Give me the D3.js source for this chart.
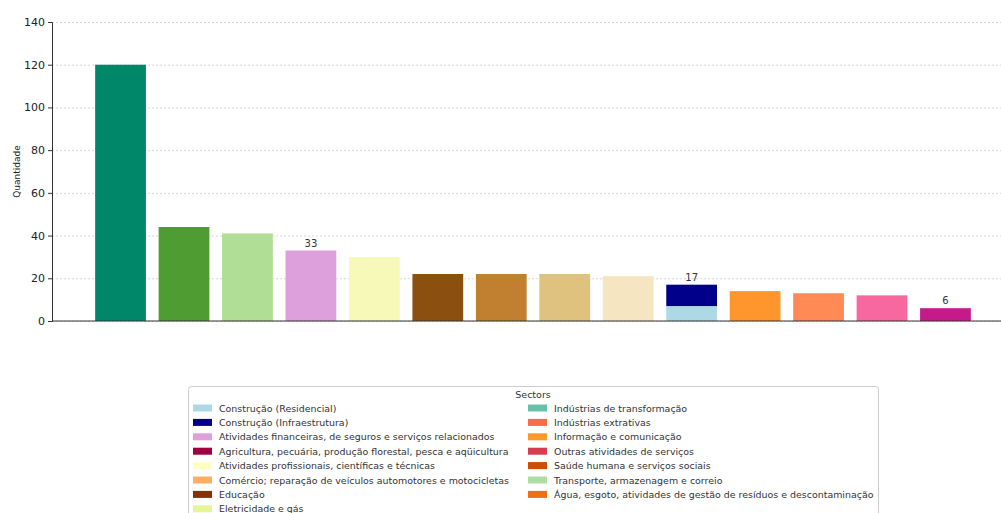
<!DOCTYPE html>
<html>
<head>
<meta charset="utf-8">
<script src="https://cdn.jsdelivr.net/npm/d3@7"></script>
<style>
  body { margin: 0; background: #fff; }
  svg text { font-family: "DejaVu Sans", sans-serif; }
  .grid line { stroke: #ccc; stroke-dasharray: 2,2; stroke-width: 0.8; }
  .grid .domain { display: none; }
</style>
</head>
<body>
<div class="fig"></div>
<script>
// bar data (sorted, no x labels shown)
var barIndex = d3.range(14);
var lowerValues = [120, 44, 41, 33, 30, 22, 22, 22, 21, 7, 14, 13, 12, 6];
var upperValues = [0, 0, 0, 0, 0, 0, 0, 0, 0, 10, 0, 0, 0, 0];
var lowerColors = ["#00876a", "#4e9c32", "#b0de94", "#dda0dd", "#f6f9b8", "#8b5010",
                   "#c0802f", "#dec27e", "#f5e5c0", "#add8e6", "#ff962d", "#ff8a55",
                   "#f768a1", "#c51b8a"];
var upperColor = "#00008b";
var labelledBars = [3, 9, 13];

var yTicks = [0, 20, 40, 60, 80, 100, 120, 140];

// legend
var legendLeft = [
  "Construção (Residencial)",
  "Construção (Infraestrutura)",
  "Atividades financeiras, de seguros e serviços relacionados",
  "Agricultura, pecuária, produção florestal, pesca e aqüicultura",
  "Atividades profissionais, científicas e técnicas",
  "Comércio; reparação de veículos automotores e motocicletas",
  "Educação",
  "Eletricidade e gás"
];
var legendLeftColors = ["#add8e6", "#00008b", "#dda0dd", "#9e0142", "#ffffbf",
                        "#fdae61", "#8c2d04", "#e6f598"];
var legendRight = [
  "Indústrias de transformação",
  "Indústrias extrativas",
  "Informação e comunicação",
  "Outras atividades de serviços",
  "Saúde humana e serviços sociais",
  "Transporte, armazenagem e correio",
  "Água, esgoto, atividades de gestão de resíduos e descontaminação"
];
var legendRightColors = ["#66c2a5", "#f46d43", "#fb9a29", "#d53e4f", "#cc4c02",
                         "#abdda4", "#ec7014"];

var W = 1001, H = 513;
var svg = d3.select(".fig").append("svg")
    .attr("width", W)
    .attr("height", H);

svg.append("rect").attr("width", W).attr("height", H).attr("fill", "#fff");

var x = d3.scaleBand()
    .domain(barIndex)
    .range([52, 1014])
    .paddingInner(0.2)
    .paddingOuter(0.68);

var y = d3.scaleLinear()
    .domain([0, 140])
    .range([321, 22]);

// grid
svg.append("g")
    .attr("class", "grid")
    .attr("transform", "translate(52,0)")
    .call(d3.axisLeft(y).tickValues(yTicks).tickSize(-1000).tickFormat(""));

// bars
var plot = svg.append("g");

plot.selectAll(".lower")
    .data(barIndex)
    .enter()
    .append("rect")
    .attr("class", "lower")
    .attr("x", d => x(d))
    .attr("width", x.bandwidth())
    .attr("y", d => y(lowerValues[d]))
    .attr("height", d => y(0) - y(lowerValues[d]))
    .attr("fill", d => lowerColors[d]);

plot.selectAll(".upper")
    .data(barIndex.filter(d => upperValues[d] > 0))
    .enter()
    .append("rect")
    .attr("class", "upper")
    .attr("x", d => x(d))
    .attr("width", x.bandwidth())
    .attr("y", d => y(lowerValues[d] + upperValues[d]))
    .attr("height", d => y(lowerValues[d]) - y(lowerValues[d] + upperValues[d]))
    .attr("fill", upperColor);

// value labels
plot.selectAll(".vlabel")
    .data(labelledBars)
    .enter()
    .append("text")
    .attr("class", "vlabel")
    .attr("x", d => x(d) + x.bandwidth() / 2)
    .attr("y", d => y(lowerValues[d] + upperValues[d]) - 4)
    .attr("text-anchor", "middle")
    .attr("font-size", "10px")
    .attr("fill", "#333")
    .text(d => lowerValues[d] + upperValues[d]);

// axes
var yAxis = svg.append("g")
    .attr("transform", "translate(52,0)")
    .call(d3.axisLeft(y).tickValues(yTicks).tickSize(4).tickPadding(3));
yAxis.selectAll("text").attr("font-size", "11px").attr("fill", "#222")
    .style("font-family", "DejaVu Sans, sans-serif");
yAxis.selectAll("line").attr("stroke", "#333");
yAxis.select(".domain").attr("stroke", "#333");

svg.append("line")
    .attr("x1", 52).attr("x2", W)
    .attr("y1", y(0)).attr("y2", y(0))
    .attr("stroke", "#333");

svg.append("text")
    .attr("transform", "translate(20," + ((y(0) + y(140)) / 2) + ") rotate(-90)")
    .attr("text-anchor", "middle")
    .attr("font-size", "9px")
    .attr("fill", "#222")
    .text("Quantidade");

// legend
var lg = svg.append("g");
lg.append("rect")
    .attr("x", 188.5).attr("y", 386.5)
    .attr("width", 690).attr("height", 140)
    .attr("rx", 3)
    .attr("fill", "#fff")
    .attr("stroke", "#ccc");

lg.append("text")
    .attr("x", 533).attr("y", 398)
    .attr("text-anchor", "middle")
    .attr("font-size", "9.5px")
    .attr("fill", "#333")
    .text("Sectors");

var rowY = d3.scaleLinear().domain([0, 1]).range([408, 422.4]);

function legendColumn(labels, colors, sx) {
    var rows = lg.append("g").selectAll("g")
        .data(labels)
        .enter()
        .append("g");
    rows.append("rect")
        .attr("x", sx)
        .attr("y", (d, i) => rowY(i) - 3.5)
        .attr("width", 19)
        .attr("height", 7)
        .attr("fill", (d, i) => colors[i]);
    rows.append("text")
        .attr("x", sx + 26)
        .attr("y", (d, i) => rowY(i) + 3.5)
        .attr("font-size", "9.45px")
        .attr("fill", "#333")
        .text(d => d);
}

legendColumn(legendLeft, legendLeftColors, 193);
legendColumn(legendRight, legendRightColors, 528);
</script>
</body>
</html>
